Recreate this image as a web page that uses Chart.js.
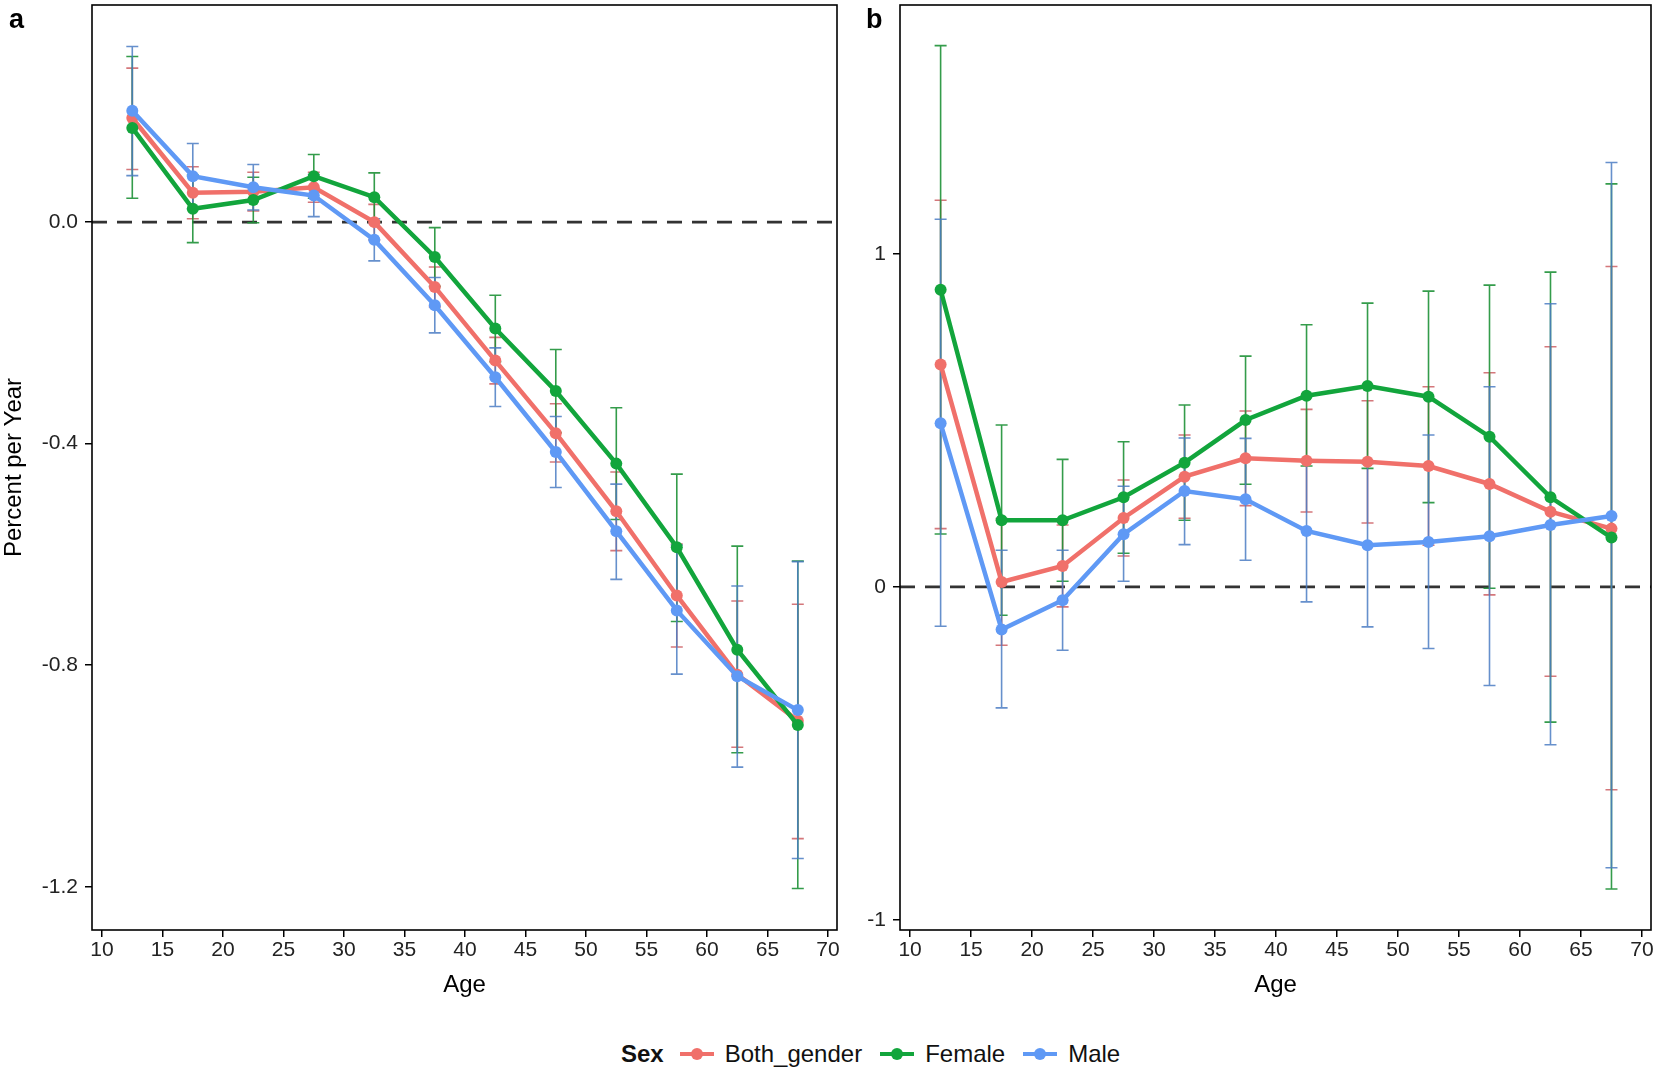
<!DOCTYPE html>
<html>
<head>
<meta charset="utf-8">
<script src="https://cdn.jsdelivr.net/npm/chart.js@4.4.1/dist/chart.umd.min.js"></script>
<style>
  html, body { margin:0; padding:0; background:#fff; }
  #page { position:relative; width:1654px; height:1072px; background:#fff; font-family:"Liberation Sans", Arial, sans-serif; }
  .panel { position:absolute; top:0; height:1000px; }
  #pa { left:0; width:845px; }
  #pb { left:845px; width:809px; }
  .plabel { position:absolute; top:4px; font-weight:bold; font-size:27px; color:#000; }
  #legend { position:absolute; left:621px; top:1039px; height:30px; display:flex; align-items:center; font-size:24px; color:#111; }
  #legend .ttl { font-weight:bold; margin-right:16px; font-size:24px; }
  #legend .key { position:relative; width:34px; height:30px; margin-right:11px; }
  #legend .key .ln { position:absolute; left:0; right:0; top:13px; height:4px; }
  #legend .key .dt { position:absolute; left:11px; top:9px; width:12px; height:12px; border-radius:50%; }
  #legend .lab { margin-right:18px; }
</style>
</head>
<body>
<div id="page">
  <div class="panel" id="pa"><canvas id="ca"></canvas></div>
  <div class="panel" id="pb"><canvas id="cb"></canvas></div>
  <div class="plabel" style="left:9px;">a</div>
  <div class="plabel" style="left:866px;">b</div>
  <div id="legend"></div>
</div>
<script>
// ---------- data ----------
const ages = [12.5, 17.5, 22.5, 27.5, 32.5, 37.5, 42.5, 47.5, 52.5, 57.5, 62.5, 67.5];
const xTicks = [10, 15, 20, 25, 30, 35, 40, 45, 50, 55, 60, 65, 70];
const yTicksA = [-1.2, -0.8, -0.4, 0.0];
const yTicksB = [-1, 0, 1];
const seriesNames = ["Both_gender", "Female", "Male"];

// Panel a
const bothA    = [0.188, 0.053, 0.055, 0.063, 0.000, -0.117, -0.250, -0.381, -0.522, -0.674, -0.817, -0.900];
const bothA_lo = [0.095, 0.006, 0.020, 0.036, -0.032, -0.153, -0.292, -0.433, -0.593, -0.767, -0.948, -1.113];
const bothA_hi = [0.278, 0.100, 0.090, 0.090, 0.032, -0.081, -0.208, -0.328, -0.451, -0.581, -0.684, -0.690];
const femA     = [0.170, 0.024, 0.040, 0.083, 0.045, -0.063, -0.192, -0.305, -0.436, -0.587, -0.772, -0.908];
const femA_lo  = [0.043, -0.037, -0.001, 0.043, 0.001, -0.116, -0.252, -0.380, -0.537, -0.721, -0.958, -1.203];
const femA_hi  = [0.299, 0.085, 0.081, 0.122, 0.089, -0.010, -0.132, -0.230, -0.335, -0.455, -0.585, -0.612];
const maleA    = [0.201, 0.083, 0.063, 0.048, -0.032, -0.150, -0.280, -0.415, -0.558, -0.701, -0.820, -0.881];
const maleA_lo = [0.084, 0.024, 0.022, 0.010, -0.070, -0.200, -0.333, -0.479, -0.645, -0.816, -0.984, -1.149];
const maleA_hi = [0.317, 0.142, 0.104, 0.086, 0.006, -0.100, -0.227, -0.351, -0.473, -0.583, -0.657, -0.613];

// Panel b
const bothB    = [0.668, 0.015, 0.063, 0.207, 0.331, 0.386, 0.379, 0.376, 0.363, 0.309, 0.226, 0.175];
const bothB_lo = [0.175, -0.175, -0.060, 0.093, 0.206, 0.244, 0.225, 0.192, 0.125, -0.024, -0.268, -0.609];
const bothB_hi = [1.161, 0.205, 0.186, 0.321, 0.456, 0.528, 0.533, 0.559, 0.601, 0.643, 0.721, 0.962];
const femB     = [0.892, 0.200, 0.200, 0.269, 0.373, 0.501, 0.574, 0.603, 0.571, 0.451, 0.269, 0.148];
const femB_lo  = [0.159, -0.085, 0.017, 0.101, 0.200, 0.308, 0.363, 0.356, 0.253, -0.004, -0.406, -0.907];
const femB_hi  = [1.625, 0.486, 0.383, 0.436, 0.546, 0.693, 0.787, 0.852, 0.888, 0.906, 0.945, 1.210];
const maleB    = [0.491, -0.128, -0.040, 0.158, 0.288, 0.263, 0.168, 0.125, 0.135, 0.152, 0.186, 0.213];
const maleB_lo = [-0.118, -0.363, -0.190, 0.017, 0.127, 0.080, -0.045, -0.120, -0.185, -0.296, -0.474, -0.843];
const maleB_hi = [1.104, 0.110, 0.110, 0.302, 0.447, 0.446, 0.375, 0.370, 0.456, 0.601, 0.850, 1.274];

// ---------- styles ----------
const lineColors = ["#F0706A", "#12A53C", "#5F99F5"];
const barColors  = ["rgba(205,95,100,0.85)", "rgba(30,145,55,0.9)", "rgba(75,125,195,0.85)"];
const FONT = "'Liberation Sans', Arial, sans-serif";

function mkDatasets(vals, los, his) {
  return vals.map((v, i) => ({
    label: seriesNames[i],
    data: ages.map((a, k) => ({ x: a, y: v[k] })),
    errLo: los[i], errHi: his[i],
    barColor: barColors[i],
    borderColor: lineColors[i],
    backgroundColor: lineColors[i],
    borderWidth: 4.5,
    pointRadius: 6,
    pointBorderWidth: 0,
    pointHoverRadius: 6,
    tension: 0,
    order: 3 - i
  }));
}

const decorPlugin = {
  id: 'decor',
  beforeDatasetsDraw(chart) {
    const { ctx, chartArea, scales: { x, y } } = chart;
    ctx.save();
    const y0 = y.getPixelForValue(0);
    ctx.setLineDash([15, 10]);
    ctx.lineWidth = 2.6;
    ctx.strokeStyle = '#333';
    ctx.beginPath();
    ctx.moveTo(chartArea.left, y0);
    ctx.lineTo(chartArea.right, y0);
    ctx.stroke();
    ctx.setLineDash([]);
    chart.data.datasets.forEach(ds => {
      ctx.strokeStyle = ds.barColor;
      ctx.lineWidth = 1.6;
      ages.forEach((a, k) => {
        const px = x.getPixelForValue(a);
        const pl = y.getPixelForValue(ds.errLo[k]);
        const ph = y.getPixelForValue(ds.errHi[k]);
        ctx.beginPath();
        ctx.moveTo(px, pl); ctx.lineTo(px, ph);
        ctx.moveTo(px - 6, pl); ctx.lineTo(px + 6, pl);
        ctx.moveTo(px - 6, ph); ctx.lineTo(px + 6, ph);
        ctx.stroke();
      });
    });
    ctx.restore();
  },
  afterDraw(chart) {
    const { ctx, chartArea } = chart;
    ctx.save();
    ctx.strokeStyle = '#000';
    ctx.lineWidth = 1.6;
    ctx.strokeRect(chartArea.left, chartArea.top, chartArea.right - chartArea.left, chartArea.bottom - chartArea.top);
    ctx.restore();
  }
};

function mkChart(canvasId, datasets, yMin, yMax, yTicks, yFmt, yWidth, padRight, yTitle) {
  return new Chart(document.getElementById(canvasId), {
    type: 'line',
    data: { datasets },
    plugins: [decorPlugin],
    options: {
      responsive: true,
      maintainAspectRatio: false,
      animation: false,
      layout: { autoPadding: false, padding: { left: 0, right: padRight, top: 5, bottom: 0 } },
      plugins: { legend: { display: false }, tooltip: { enabled: false } },
      scales: {
        x: {
          type: 'linear', min: 9.17, max: 70.74,
          afterBuildTicks: s => { s.ticks = xTicks.map(v => ({ value: v })); },
          afterFit: s => { s.height = 70; s.paddingLeft = 0; s.paddingRight = 0; },
          grid: { display: true, drawOnChartArea: false, drawTicks: true, tickLength: 7, color: '#000', lineWidth: 1.5 },
          border: { display: false },
          ticks: { font: { family: FONT, size: 21 }, color: '#222', padding: 1, maxRotation: 0, autoSkip: false, callback: v => String(v) },
          title: { display: true, text: 'Age', font: { family: FONT, size: 24, lineHeight: 1.2 }, color: '#000', padding: 0 }
        },
        y: {
          type: 'linear', min: yMin, max: yMax,
          afterBuildTicks: s => { s.ticks = yTicks.map(v => ({ value: v })); },
          afterFit: s => { s.width = yWidth; s.paddingTop = 0; s.paddingBottom = 0; },
          grid: { display: true, drawOnChartArea: false, drawTicks: true, tickLength: 7, color: '#000', lineWidth: 1.5 },
          border: { display: false },
          ticks: { font: { family: FONT, size: 21 }, color: '#222', padding: 7, autoSkip: false, callback: yFmt },
          title: { display: !!yTitle, text: yTitle || '', font: { family: FONT, size: 24, lineHeight: 1.2 }, color: '#000', padding: 0 }
        }
      }
    }
  });
}

mkChart('ca', mkDatasets([bothA, femA, maleA], [bothA_lo, femA_lo, maleA_lo], [bothA_hi, femA_hi, maleA_hi]),
  -1.278, 0.392, yTicksA, v => Number(v).toFixed(1), 92, 8, 'Percent per Year');
mkChart('cb', mkDatasets([bothB, femB, maleB], [bothB_lo, femB_lo, maleB_lo], [bothB_hi, femB_hi, maleB_hi]),
  -1.03, 1.747, yTicksB, v => String(Math.round(v)), 55, 3, '');

// legend
const lg = document.getElementById('legend');
let html = '<span class="ttl">Sex</span>';
seriesNames.forEach((n, i) => {
  html += '<span class="key"><span class="ln" style="background:' + lineColors[i] + '"></span><span class="dt" style="background:' + lineColors[i] + '"></span></span><span class="lab">' + n + '</span>';
});
lg.innerHTML = html;
</script>
</body>
</html>
